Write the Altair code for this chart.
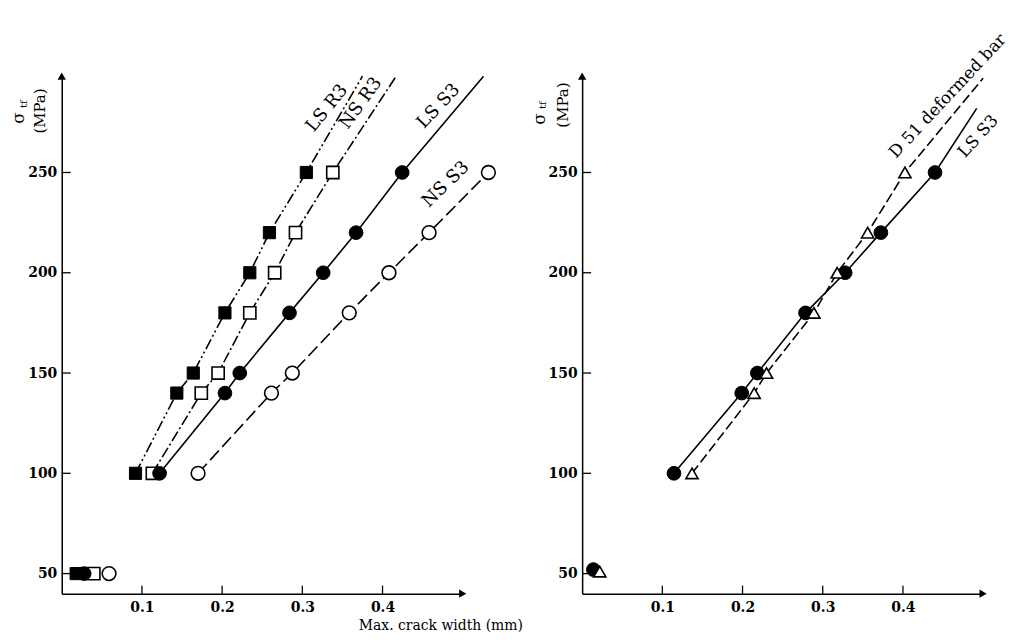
import altair as alt
import pandas as pd

FONT = "DejaVu Serif"

# ---------------- data ----------------
stress = [50, 100, 140, 150, 180, 200, 220, 250]

# Left panel: max crack width (mm) at each stress level
left_ls_r3 = [0.018, 0.092, 0.1435, 0.164, 0.2035, 0.2345, 0.259, 0.305]
left_ns_r3 = [0.040, 0.113, 0.174, 0.195, 0.2345, 0.2655, 0.2915, 0.338]
left_ls_s3 = [0.028, 0.122, 0.2035, 0.222, 0.284, 0.326, 0.367, 0.4245]
left_ns_s3 = [0.059, 0.170, 0.2615, 0.2875, 0.3585, 0.408, 0.458, 0.532]

# upper end of the drawn lines (width mm, stress MPa)
left_end_ls_r3 = (0.375, 298)
left_end_ns_r3 = (0.417, 298)
left_end_ls_s3 = (0.526, 298)

# Right panel
right_stress_ls = [52, 100, 140, 150, 180, 200, 220, 250]
right_ls_s3 = [0.014, 0.1145, 0.199, 0.2185, 0.2785, 0.328, 0.3725, 0.440]
right_stress_d51 = [51, 100, 140, 150, 180, 200, 220, 250]
right_d51 = [0.022, 0.137, 0.2145, 0.230, 0.289, 0.318, 0.356, 0.4025]

right_end_ls_s3 = (0.492, 282)
right_end_d51 = (0.500, 297)

y_ticks = [50, 100, 150, 200, 250]
x_ticks = [0.1, 0.2, 0.3, 0.4]

# line labels: text, width, stress, angle
left_labels = pd.DataFrame({
    "t": ["LS  R3", "NS  R3", "LS  S3", "NS  S3"],
    "w": [0.331, 0.373, 0.470, 0.479],
    "s": [282, 284.5, 283, 244],
    "a": [309, 306, 313, 316],
})
right_labels = pd.DataFrame({
    "t": ["D 51 deformed bar", "LS  S3"],
    "w": [0.456, 0.494],
    "s": [288, 268],
    "a": [313, 312],
})

W, H = 403, 520
X_DOM = [0, 0.5]
Y_DOM = [40, 298]

xscale = alt.Scale(domain=X_DOM, nice=False, zero=False)
yscale = alt.Scale(domain=Y_DOM, nice=False, zero=False)
xaxis = alt.Axis(values=x_ticks, format=".1f", ticks=False, grid=False,
                 domainColor="black", domainWidth=1.5, labelColor="black",
                 labelFont=FONT, labelFontSize=14, labelFontWeight="bold",
                 labelPadding=7, title=None)
yaxis = alt.Axis(values=y_ticks, ticks=False, grid=False,
                 domainColor="black", domainWidth=1.5, labelColor="black",
                 labelFont=FONT, labelFontSize=14, labelFontWeight="bold",
                 labelPadding=5, title=None)


def X(field="w"):
    return alt.X(f"{field}:Q", scale=xscale, axis=xaxis)


def Y(field="s"):
    return alt.Y(f"{field}:Q", scale=yscale, axis=yaxis)


def line_layer(widths, stresses, end, dash):
    ws = [w for w, s in zip(widths, stresses) if s >= 100]
    ss = [s for s in stresses if s >= 100]
    if end is not None:
        ws = ws + [end[0]]
        ss = ss + [end[1]]
    df = pd.DataFrame({"w": ws, "s": ss})
    kw = dict(color="black", strokeWidth=1.6)
    if dash:
        kw["strokeDash"] = dash
    return alt.Chart(df).mark_line(**kw).encode(x=X(), y=Y(), order="s:Q")


def point_layer(widths, stresses, shape, filled, size):
    df = pd.DataFrame({"w": widths, "s": stresses})
    if filled:
        mk = alt.Chart(df).mark_point(shape=shape, filled=True, fill="black",
                                      stroke="black", strokeWidth=1, size=size, opacity=1)
    else:
        mk = alt.Chart(df).mark_point(shape=shape, filled=True, fill="white",
                                      stroke="black", strokeWidth=1.6, size=size, opacity=1)
    return mk.encode(x=X(), y=Y())


def frame_layers():
    yt = pd.DataFrame({"s": y_ticks})
    xt = pd.DataFrame({"w": x_ticks})
    ytick = alt.Chart(yt).mark_rule(color="black", strokeWidth=1.3).encode(
        y=Y(), x=alt.value(0), x2=alt.value(9))
    xtick = alt.Chart(xt).mark_rule(color="black", strokeWidth=1.3).encode(
        x=X(), y=alt.value(H), y2=alt.value(H - 8))
    arrow_df = pd.DataFrame({"w": [X_DOM[0]], "s": [Y_DOM[1]]})
    yarrow = alt.Chart(arrow_df).mark_point(shape="triangle-up", filled=True, fill="black",
                                            size=70, opacity=1).encode(x=X(), y=Y())
    arrow_df2 = pd.DataFrame({"w": [X_DOM[1]], "s": [Y_DOM[0]]})
    xarrow = alt.Chart(arrow_df2).mark_point(shape="triangle-right", filled=True, fill="black",
                                             size=70, opacity=1).encode(x=X(), y=Y())
    return [ytick, xtick, yarrow, xarrow]


def ytitle_layers(pos):
    (sx, sy), (tx, ty), (mx, my) = pos
    one = pd.DataFrame({"t": ["σ"]})
    sig = alt.Chart(one).mark_text(font=FONT, fontSize=17, angle=270,
                                   color="black").encode(
        text="t:N", x=alt.value(sx), y=alt.value(sy))
    sub = alt.Chart(pd.DataFrame({"t": ["tf"]})).mark_text(
        font=FONT, fontSize=10, angle=270, color="black").encode(
        text="t:N", x=alt.value(tx), y=alt.value(ty))
    mpa = alt.Chart(pd.DataFrame({"t": ["(MPa)"]})).mark_text(
        font=FONT, fontSize=15, angle=270, color="black").encode(
        text="t:N", x=alt.value(mx), y=alt.value(my))
    return [sig, sub, mpa]


def label_layer(df, size):
    return alt.Chart(df).mark_text(font=FONT, fontSize=size, color="black",
                                   align="center", baseline="middle").encode(
        x=X(), y=Y(), text="t:N", angle=alt.Angle("a:Q", scale=None))


# ---------------- left panel ----------------
left = alt.layer(
    *frame_layers(),
    line_layer(left_ls_r3, stress, left_end_ls_r3, [11, 3, 2, 3, 2, 3]),
    line_layer(left_ns_r3, stress, left_end_ns_r3, [11, 3, 2, 3]),
    line_layer(left_ls_s3, stress, left_end_ls_s3, None),
    line_layer(left_ns_s3, stress, None, [13, 5]),
    point_layer(left_ls_r3, stress, "square", True, 150),
    point_layer(left_ns_r3, stress, "square", False, 150),
    point_layer(left_ls_s3, stress, "circle", True, 190),
    point_layer(left_ns_s3, stress, "circle", False, 190),
    label_layer(left_labels, 18),
    *ytitle_layers(((-43, 42), (-38, 28), (-22, 35))),
    alt.Chart(pd.DataFrame({"t": ["Max.  crack  width (mm)"]})).mark_text(
        font=FONT, fontSize=14, color="black").encode(
        text="t:N", x=alt.value(381), y=alt.value(553)),
).properties(width=W, height=H)

# ---------------- right panel ----------------
right = alt.layer(
    *frame_layers(),
    line_layer(right_ls_s3, right_stress_ls, right_end_ls_s3, None),
    line_layer(right_d51, right_stress_d51, right_end_d51, [10, 4]),
    point_layer(right_ls_s3, right_stress_ls, "circle", True, 190),
    point_layer(right_d51, right_stress_d51, "triangle-up", False, 150),
    label_layer(right_labels, 17),
    *ytitle_layers(((-42, 43), (-39, 29), (-19, 29))),
).properties(width=W, height=H)

chart = alt.hconcat(left, right, spacing=120, bounds="flush").properties(
    padding={"left": 2, "top": 21, "right": 0, "bottom": 0},
    background="white",
).configure_view(stroke=None)

chart.save("out.html", embed_options={"renderer": "svg", "actions": False})
